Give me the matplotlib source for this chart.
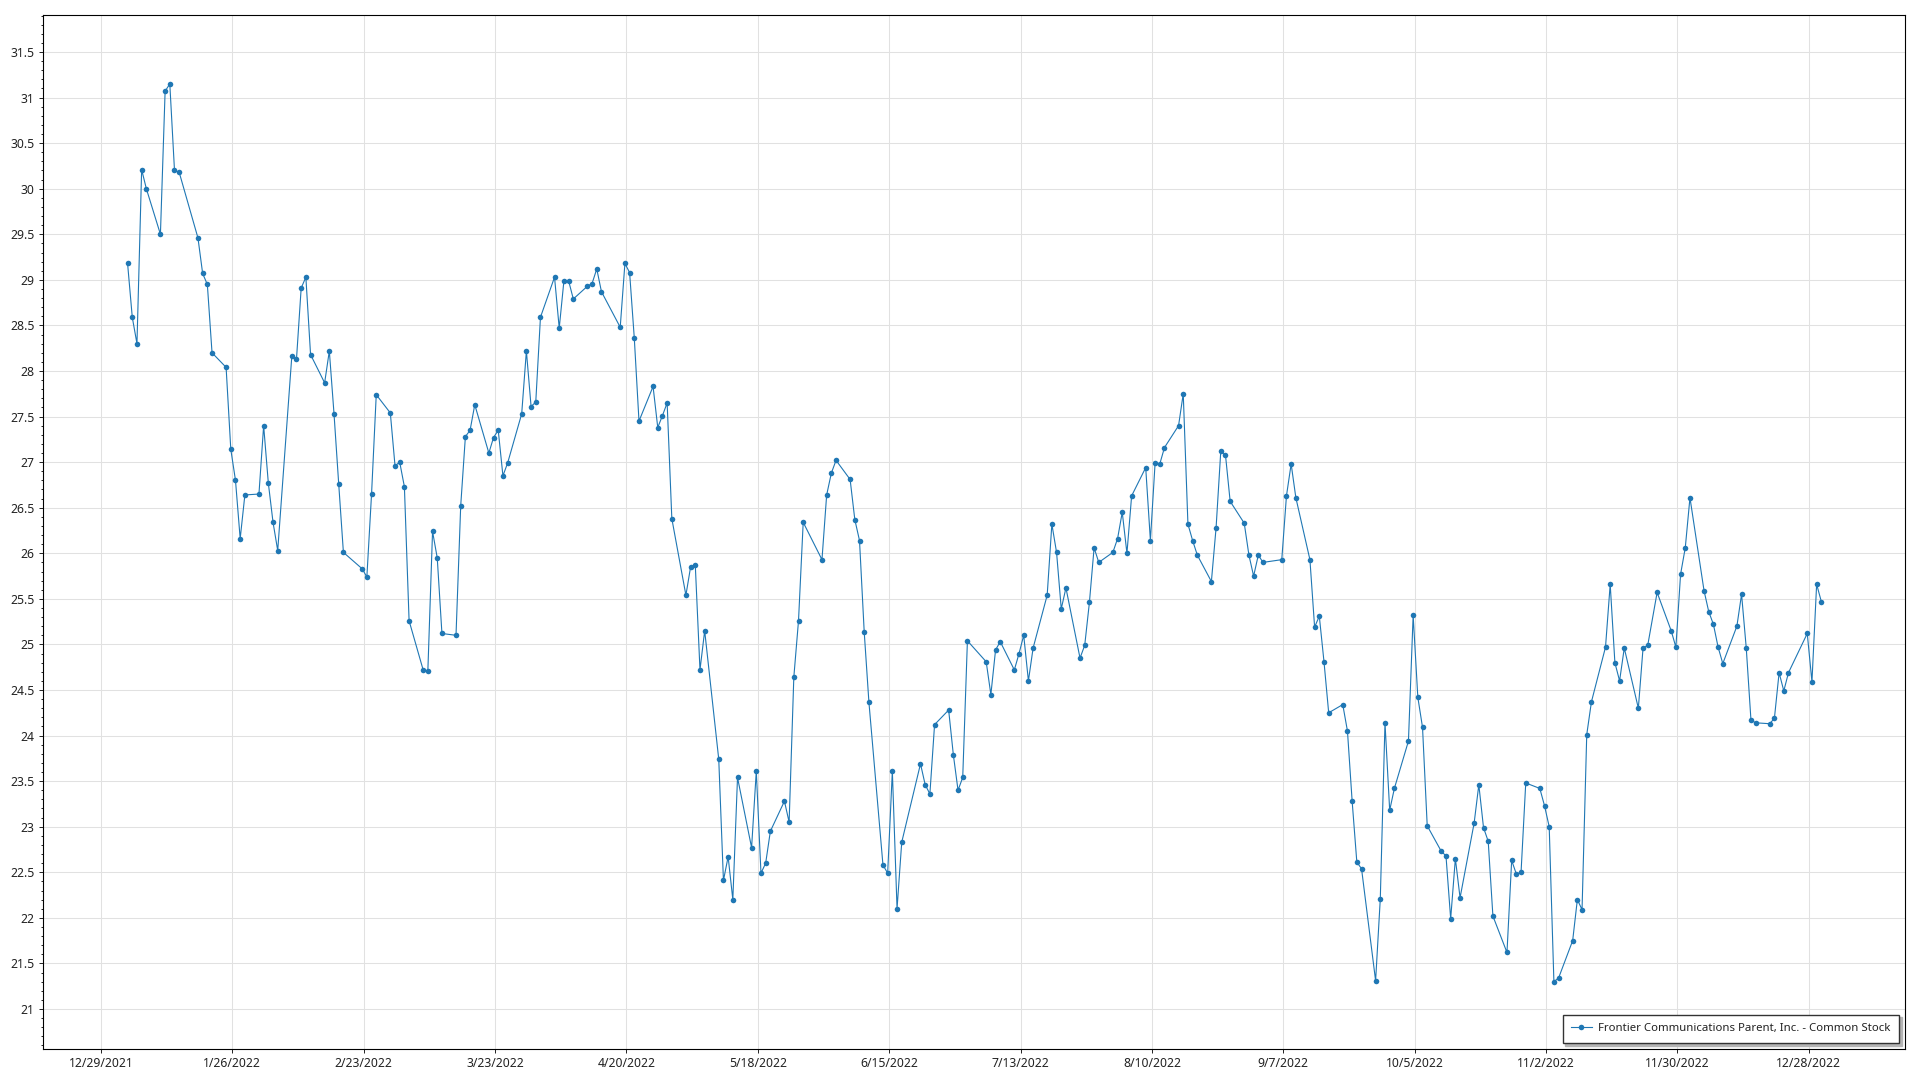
import pandas as pd
import matplotlib
matplotlib.use("Agg")
import matplotlib.pyplot as plt
import matplotlib.dates as mdates
from matplotlib.ticker import MultipleLocator, FuncFormatter

plt.rcParams['font.family'] = ['Noto Sans', 'DejaVu Sans']

#%% data
# exchange closed on these days in 2022
holidays = ['2022-01-17', '2022-02-21', '2022-04-15', '2022-05-30', '2022-06-20',
            '2022-07-04', '2022-09-05', '2022-11-24', '2022-12-26']
# stamps sit at the 4pm close
dates = pd.bdate_range('2022-01-03', '2022-12-30', freq='C', holidays=holidays) + pd.Timedelta(hours=16)

# daily close (one per trading day)
close = [
    # jan
    29.18, 28.59, 28.30, 30.21, 30.00, 29.50, 31.07, 31.15, 30.20, 30.18,
    29.46, 29.07, 28.95, 28.20, 28.04, 27.14, 26.80, 26.16, 26.64, 26.65,
    # feb
    27.40, 26.77, 26.34, 26.03, 28.16, 28.13, 28.91, 29.03, 28.18, 27.87,
    28.22, 27.53, 26.76, 26.01, 25.83, 25.74, 26.65, 27.74, 27.54,
    # mar
    26.96, 27.00, 26.73, 25.26, 24.72, 24.71, 26.24, 25.95, 25.12, 25.10,
    26.52, 27.28, 27.35, 27.63, 27.10, 27.27, 27.35, 26.85, 26.99, 27.53,
    28.22, 27.61, 27.66,
    # apr
    28.59, 29.03, 28.47, 28.99, 28.99, 28.79, 28.93, 28.96, 29.12, 28.87,
    28.48, 29.18, 29.08, 28.36, 27.45, 27.83, 27.38, 27.51, 27.65, 26.38,
    # may
    25.54, 25.85, 25.87, 24.72, 25.15, 23.74, 22.41, 22.67, 22.20, 23.54,
    22.77, 23.61, 22.49, 22.60, 22.95, 23.28, 23.05, 24.64, 25.26, 26.34,
    25.93,
    # jun
    26.64, 26.88, 27.02, 26.81, 26.37, 26.14, 25.14, 24.37, 22.58, 22.49,
    23.61, 22.10, 22.83, 23.69, 23.46, 23.36, 24.12, 24.28, 23.79, 23.40,
    23.54,
    # jul
    25.04, 24.81, 24.45, 24.94, 25.03, 24.72, 24.90, 25.10, 24.60, 24.96,
    25.54, 26.32, 26.01, 25.39, 25.62, 24.85, 24.99, 25.46, 26.06, 25.90,
    # aug
    26.01, 26.16, 26.45, 26.00, 26.63, 26.94, 26.14, 26.99, 26.98, 27.16,
    27.40, 27.75, 26.32, 26.14, 25.98, 25.69, 26.28, 27.12, 27.08, 26.57,
    26.33, 25.98, 25.75,
    # sep
    25.98, 25.90, 25.93, 26.63, 26.98, 26.61, 25.93, 25.19, 25.31, 24.81,
    24.25, 24.34, 24.05, 23.28, 22.61, 22.54, 21.31, 22.21, 24.14, 23.18,
    23.42,
    # oct
    23.94, 25.32, 24.42, 24.09, 23.01, 22.73, 22.68, 21.99, 22.65, 22.22,
    23.04, 23.46, 22.99, 22.84, 22.02, 21.62, 22.63, 22.48, 22.50, 23.48,
    23.42,
    # nov
    23.23, 23.00, 21.30, 21.34, 21.75, 22.20, 22.09, 24.01, 24.37, 24.97,
    25.66, 24.80, 24.60, 24.96, 24.30, 24.96, 24.99, 25.57, 25.15, 24.97,
    25.77,
    # dec
    26.06, 26.61, 25.59, 25.36, 25.22, 24.97, 24.79, 25.20, 25.55, 24.96,
    24.17, 24.14, 24.13, 24.19, 24.69, 24.49, 24.69, 25.12, 24.59, 25.66,
    25.47,
]
series_name = "Frontier Communications Parent, Inc. - Common Stock"
tick_dates = pd.date_range('2021-12-29', periods=14, freq='28D')

#%% plot
W, H = 1920, 1080
fig = plt.figure(figsize=(W / 100, H / 100), dpi=100)
ax = fig.add_axes([43 / W, 1 - 1049 / H, (1905 - 43) / W, (1049 - 15) / H])

ax.plot(dates, close, color='#1f77b4', lw=0.8, marker='o', ms=4.0,
        markeredgewidth=0, label=series_name, zorder=3)

x0 = mdates.date2num(pd.Timestamp('2021-12-29'))
ax.set_xlim(x0 - 12.36, x0 + 384.5)
ax.set_ylim(20.561, 31.906)

ax.set_xticks(tick_dates)
ax.xaxis.set_major_formatter(FuncFormatter(
    lambda v, p: (lambda d: '%d/%d/%d' % (d.month, d.day, d.year))(mdates.num2date(v))))
ax.yaxis.set_major_locator(MultipleLocator(0.5))
ax.yaxis.set_minor_locator(MultipleLocator(0.1))
ax.yaxis.set_major_formatter(FuncFormatter(lambda v, p: '%g' % round(v, 2)))

ax.grid(True, which='major', color='#e1e1e1', lw=0.75, zorder=0)
ax.set_axisbelow(True)
for s in ax.spines.values():
    s.set_color('black')
    s.set_linewidth(0.8)

ax.tick_params(axis='both', which='major', labelsize=8.8, colors='#222222',
               length=3, width=0.7, pad=3)
ax.tick_params(axis='y', which='minor', length=1.6, width=0.7, colors='#222222')

leg = ax.legend(loc='lower right', fontsize=8.2, frameon=True, fancybox=False,
                shadow={'color': '#b4b4b4', 'alpha': 1}, framealpha=1,
                edgecolor='#333333', borderaxespad=0.55, handlelength=1.8,
                handletextpad=0.55, borderpad=0.75)
leg.get_frame().set_linewidth(1.0)
for t in leg.get_texts():
    t.set_color('#222222')

fig.savefig('out.png', dpi=100)
